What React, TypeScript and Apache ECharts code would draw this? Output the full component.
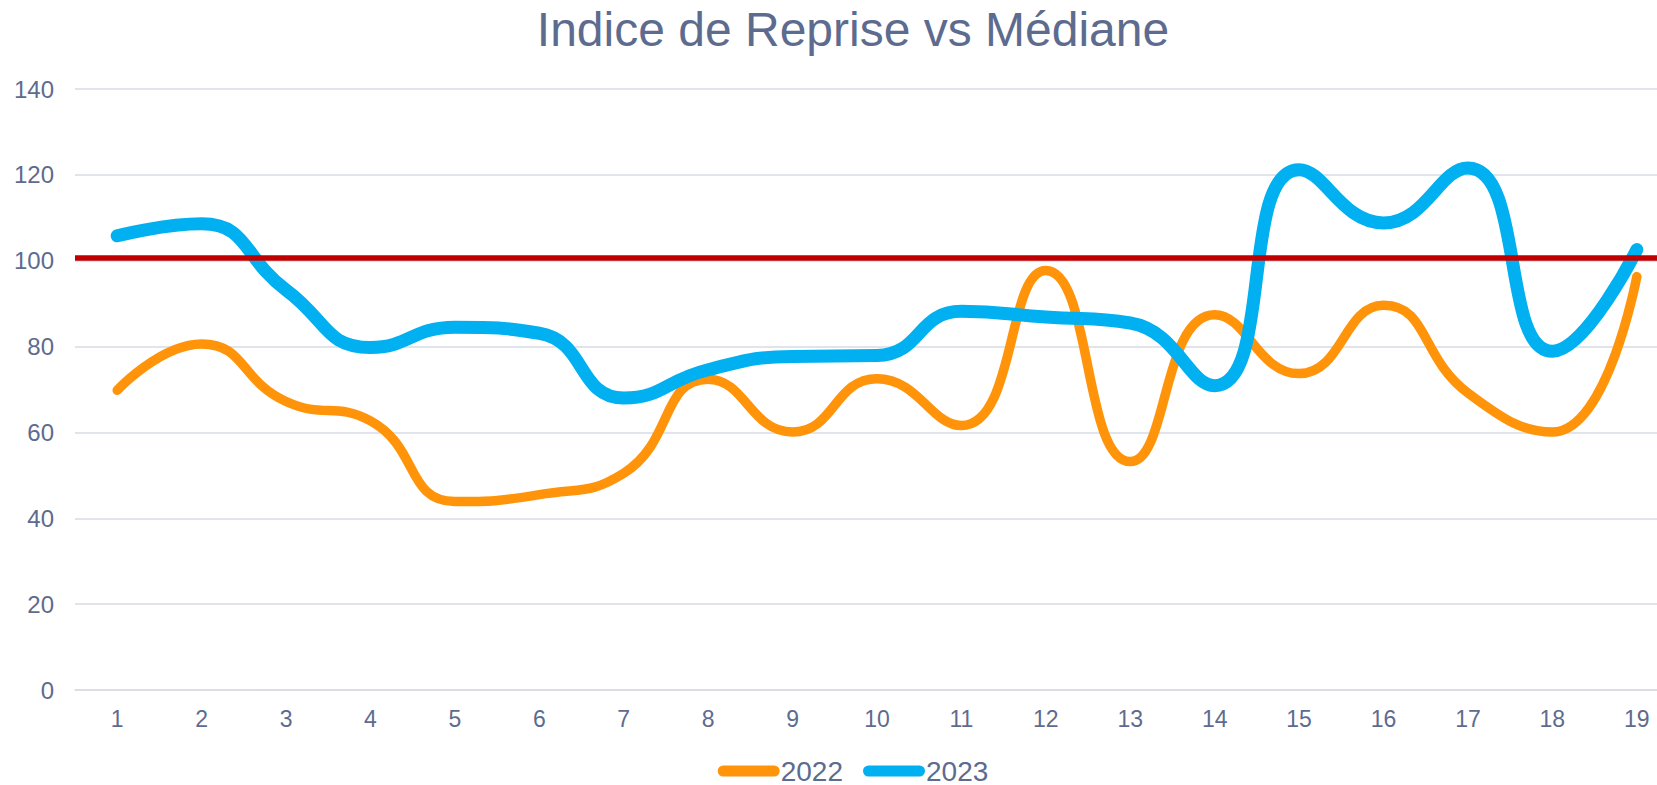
import React, { useEffect, useRef } from "react";
import * as echarts from "echarts";

const categories = ["1","2","3","4","5","6","7","8","9","10","11","12","13","14","15","16","17","18","19"];
const values2022 = [69.8, 80.6, 67.2, 62.7, 43.9, 45.5, 50.5, 72.4, 60.1, 72.5, 61.6, 97.7, 53.2, 87.4, 73.7, 89.6, 69.2, 60.1, 96.3];
const values2023 = [105.8, 108.6, 93.2, 79.8, 84.5, 83.1, 68.0, 74.6, 77.7, 77.9, 88.2, 86.9, 85.5, 70.9, 121.2, 108.8, 121.6, 78.9, 102.6];
const medianValue = 100.6;
const seriesNames = ["2022", "2023"];
const titleText = "Indice de Reprise vs Médiane";

const TEXT = "#5D6B8F";
const FONT = "'Liberation Sans', Arial, sans-serif";
const legendIcon = "path://M0,5.5 A5.5,5.5 0 0 1 5.5,0 L56.5,0 A5.5,5.5 0 0 1 56.5,11 L5.5,11 A5.5,5.5 0 0 1 0,5.5 Z";

export default function App() {
  const ref = useRef<HTMLDivElement>(null);
  useEffect(() => {
    if (!ref.current) return;
    const chart = echarts.init(ref.current, null, { renderer: "svg" });
    chart.setOption({
      animation: false,
      backgroundColor: "#ffffff",
      title: {
        text: titleText,
        left: "center",
        top: 0,
        textStyle: { color: TEXT, fontSize: 48, fontWeight: "normal", fontFamily: FONT },
      },
      legend: {
        bottom: 0,
        left: "center",
        padding: 0,
        itemWidth: 62,
        itemHeight: 12,
        itemGap: 20,
        icon: legendIcon,
        textStyle: { color: TEXT, fontSize: 28, lineHeight: 28, fontFamily: FONT, padding: [0, 0, 0, -4] },
        data: seriesNames,
      },
      grid: { left: 75, right: 27, top: 89, bottom: 95, containLabel: false },
      xAxis: {
        type: "category",
        data: categories,
        boundaryGap: true,
        axisLine: { show: true, lineStyle: { color: "#D9DBE4", width: 1.5 } },
        axisTick: { show: false },
        axisLabel: { color: TEXT, fontSize: 23, fontFamily: FONT, margin: 17 },
      },
      yAxis: {
        type: "value",
        min: 0,
        max: 140,
        interval: 20,
        axisLine: { show: false },
        axisTick: { show: false },
        axisLabel: { color: TEXT, fontSize: 24, fontFamily: FONT, margin: 21 },
        splitLine: { lineStyle: { color: "#D9DBE4", width: 1.5 } },
      },
      series: [
        {
          name: seriesNames[0],
          type: "line",
          data: values2022,
          smooth: 0.5,
          showSymbol: false,
          symbol: "none",
          color: "#FF940A",
          lineStyle: { color: "#FF940A", width: 9.5, cap: "round", join: "round" },
          z: 2,
        },
        {
          name: seriesNames[1],
          type: "line",
          data: values2023,
          smooth: 0.5,
          showSymbol: false,
          symbol: "none",
          color: "#00B0F0",
          lineStyle: { color: "#00B0F0", width: 13, cap: "round", join: "round" },
          z: 3,
          markLine: {
            silent: true,
            symbol: ["none", "none"],
            label: { show: false },
            lineStyle: { color: "#C00000", width: 5.5, type: "solid" },
            data: [{ yAxis: medianValue }],
            z: 5,
          },
        },
      ],
    });
    return () => chart.dispose();
  }, []);
  return (
    <div style={{ position: "absolute", left: 0, top: 0, width: 1657, height: 785, overflow: "hidden", background: "#fff" }}>
      <div ref={ref} style={{ width: 1706, height: 785 }} />
    </div>
  );
}
